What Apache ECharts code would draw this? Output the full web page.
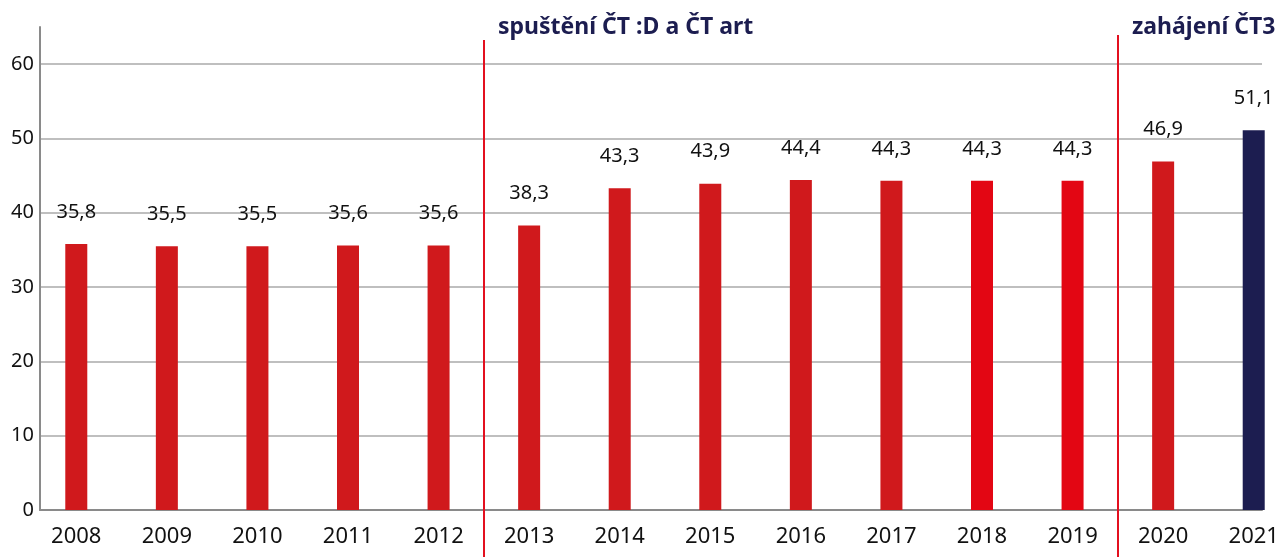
<!DOCTYPE html>
<html>
<head>
<meta charset="utf-8">
<script src="https://cdn.jsdelivr.net/npm/echarts@6/dist/echarts.min.js"></script>
<style>
  html, body { margin: 0; padding: 0; background: #fff; }
  #chart { width: 1284px; height: 557px; }
</style>
</head>
<body>
<div id="chart"></div>
<script>
var years = ["2008", "2009", "2010", "2011", "2012", "2013", "2014", "2015", "2016", "2017", "2018", "2019", "2020", "2021"];
var values = [35.8, 35.5, 35.5, 35.6, 35.6, 38.3, 43.3, 43.9, 44.4, 44.3, 44.3, 44.3, 46.9, 51.1];
var yTicks = [0, 10, 20, 30, 40, 50, 60];
var events = [
  { after: "2012", text: "spuštění ČT :D a ČT art" },
  { after: "2019", text: "zahájení ČT3" }
];

var FONT = "'Noto Sans', 'Open Sans', sans-serif";
var barColor = function (i) {
  if (years[i] === "2021") return "#1c1d50";
  if (years[i] === "2018" || years[i] === "2019") return "#e30613";
  return "#d0191c";
};

var myChart = echarts.init(document.getElementById("chart"));
var option = {
  backgroundColor: "#fff",
  animation: false,
  grid: [
    { left: 40, right: 22, top: 27, bottom: 47, outerBoundsMode: "none" },
    { left: 31, width: 1268, top: 27, bottom: 47, outerBoundsMode: "none" }
  ],
  xAxis: [
    {
      gridIndex: 0,
      type: "value",
      min: 0,
      max: 1,
      axisLabel: { show: false },
      axisTick: { show: false },
      splitLine: { show: false },
      axisLine: { lineStyle: { color: "#8a8a8a", width: 2 } }
    },
    {
      gridIndex: 1,
      type: "category",
      data: years,
      axisLine: { show: false },
      axisTick: { show: false },
      axisLabel: { color: "#111", fontSize: 22, fontFamily: FONT, margin: 16 }
    }
  ],
  yAxis: [
    {
      gridIndex: 0,
      type: "value",
      min: 0,
      max: 65,
      interval: 10,
      axisLine: { show: true, lineStyle: { color: "#8a8a8a", width: 2 } },
      axisTick: { show: false },
      axisLabel: {
        color: "#111",
        fontSize: 20,
        fontFamily: FONT,
        margin: 6,
        showMaxLabel: false,
        formatter: function (v) { return yTicks.indexOf(v) >= 0 ? String(v) : ""; }
      },
      splitLine: { showMaxLine: false, lineStyle: { color: "#aaaaaa", width: 1.5 } }
    },
    {
      gridIndex: 1,
      type: "value",
      min: 0,
      max: 65,
      show: false,
      splitLine: { show: false }
    }
  ],
  series: [
    {
      type: "bar",
      xAxisIndex: 1,
      yAxisIndex: 1,
      barWidth: 22,
      data: values.map(function (v, i) {
        return { value: v, itemStyle: { color: barColor(i) } };
      }),
      label: {
        show: true,
        position: "top",
        distance: 22,
        color: "#111",
        fontSize: 20,
        fontFamily: FONT,
        formatter: function (p) { return String(p.value).replace(".", ","); }
      }
    }
  ]
};
myChart.setOption(option);

// dělicí čáry a popisky událostí
var graphics = [];
events.forEach(function (ev, k) {
  var idx = years.indexOf(ev.after);
  var x0 = myChart.convertToPixel({ xAxisIndex: 1 }, years[idx]);
  var x1 = myChart.convertToPixel({ xAxisIndex: 1 }, years[idx + 1]);
  var x = Math.round((x0 + x1) / 2);
  graphics.push({
    type: "line",
    shape: { x1: x, y1: k === 0 ? 40 : 35, x2: x, y2: 557 },
    style: { stroke: "#e3101f", lineWidth: 2 },
    z: 10
  });
  graphics.push({
    type: "text",
    x: x + 14,
    y: 27,
    style: {
      text: ev.text,
      fill: "#1c1d50",
      font: "bold 23px " + FONT,
      textVerticalAlign: "middle"
    },
    z: 10
  });
});
myChart.setOption({ graphic: graphics });
</script>
</body>
</html>
